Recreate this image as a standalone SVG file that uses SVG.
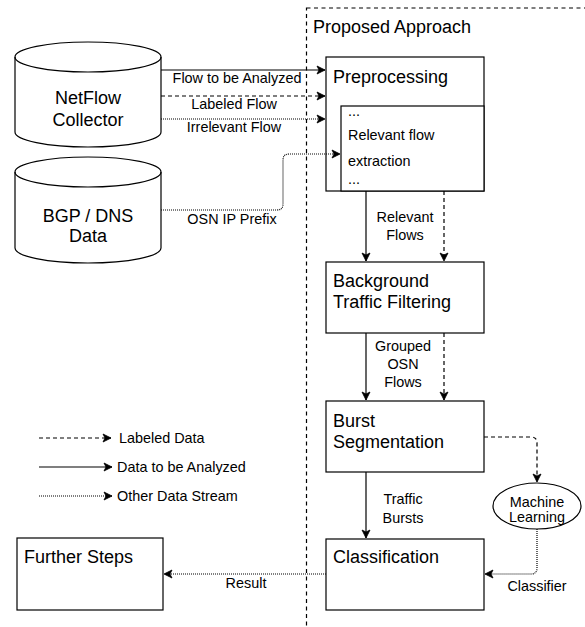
<svg xmlns="http://www.w3.org/2000/svg" width="585" height="627" viewBox="0 0 585 627">
<defs>
<marker id="ah" markerUnits="userSpaceOnUse" markerWidth="10" markerHeight="10" viewBox="0 0 10 10" refX="8" refY="4.5" orient="auto" overflow="visible">
<path d="M8,4.5 L0,0.5 L2,4.5 L0,8.5 Z" fill="#000" stroke="#000" stroke-width="0.8"/>
</marker>
<style>
text{font-family:"Liberation Sans",Arial,Helvetica,sans-serif;fill:#000}
.big{font-size:18px}
.sm{font-size:14.4px}
.mid{text-anchor:middle}
.box{fill:#fff;stroke:#000;stroke-width:1.2}
.e{fill:none;stroke:#000;stroke-width:1.2}
.solid{}
.dash{stroke-dasharray:4 3}
.dot{stroke-dasharray:1 1}
.arr{marker-end:url(#ah)}
.cont{fill:none;stroke:#000;stroke-width:1.2;stroke-dasharray:4 3.5}
</style>
</defs>
<rect width="585" height="627" fill="#fff"/>

<g id="container">
<rect class="cont" x="306.5" y="8" width="300" height="650"/>
<text class="big" x="313" y="33">Proposed Approach</text>
</g>

<g id="netflow">
<path class="box" d="M15,57 A73,15 0 0 1 161,57 L161,132 A73,15 0 0 1 15,132 Z"/>
<path class="e" d="M15,57 A73,15 0 0 0 161,57"/>
<text class="big mid" x="88" y="104">NetFlow</text>
<text class="big mid" x="88" y="126">Collector</text>
</g>

<g id="bgp">
<path class="box" d="M15,172 A73,15 0 0 1 161,172 L161,248 A73,15 0 0 1 15,248 Z"/>
<path class="e" d="M15,172 A73,15 0 0 0 161,172"/>
<text class="big mid" x="88" y="222">BGP / DNS</text>
<text class="big mid" x="88" y="242">Data</text>
</g>

<g id="preprocessing">
<rect class="box" x="326" y="57" width="158" height="134"/>
<text class="big" x="333" y="83">Preprocessing</text>
<rect class="box" x="341" y="106" width="143" height="85"/>
<text class="sm" x="348" y="116">...</text>
<text class="sm" x="348" y="140">Relevant flow</text>
<text class="sm" x="348" y="166">extraction</text>
<text class="sm" x="348" y="184">...</text>
</g>

<g id="background">
<rect class="box" x="326" y="262" width="158" height="71"/>
<text class="big" x="333" y="287">Background</text>
<text class="big" x="333" y="308">Traffic Filtering</text>
</g>

<g id="burst">
<rect class="box" x="326" y="401" width="158" height="71"/>
<text class="big" x="333" y="427">Burst</text>
<text class="big" x="333" y="448">Segmentation</text>
</g>

<g id="classification">
<rect class="box" x="326" y="539" width="158" height="71"/>
<text class="big" x="333" y="563">Classification</text>
</g>

<g id="ml">
<ellipse class="box" cx="537" cy="506" rx="44" ry="23"/>
<text class="sm mid" x="537" y="507">Machine</text>
<text class="sm mid" x="537" y="522">Learning</text>
</g>

<g id="further">
<rect class="box" x="17" y="538" width="146" height="72"/>
<text class="big" x="24" y="563">Further Steps</text>
</g>

<g id="legend">
<path class="e dash arr" d="M39,438 H111"/>
<text class="sm" x="119" y="443">Labeled Data</text>
<path class="e arr" d="M39,467 H112"/>
<text class="sm" x="117" y="472">Data to be Analyzed</text>
<path class="e dot arr" d="M39,496 H112"/>
<text class="sm" x="117" y="501">Other Data Stream</text>
</g>

<g id="connectors">
<path class="e arr" d="M161,70 H325"/>
<text class="sm mid" x="237" y="83">Flow to be Analyzed</text>
<path class="e dash arr" d="M161,96 H325"/>
<text class="sm mid" x="234" y="109">Labeled Flow</text>
<path class="e dot arr" d="M161,119 H325"/>
<text class="sm mid" x="234" y="132">Irrelevant Flow</text>
<path class="e dot arr" d="M161,210 H277 Q283,210 283,204 V160 Q283,154 289,154 H340"/>
<text class="sm mid" x="232" y="224">OSN IP Prefix</text>

<path class="e arr" d="M366,191 V261"/>
<path class="e dash arr" d="M444,191 V261"/>
<text class="sm mid" x="405" y="222">Relevant</text>
<text class="sm mid" x="405" y="240">Flows</text>

<path class="e arr" d="M366,333 V400"/>
<path class="e dash arr" d="M444,333 V400"/>
<text class="sm mid" x="403" y="351">Grouped</text>
<text class="sm mid" x="403" y="369">OSN</text>
<text class="sm mid" x="403" y="387">Flows</text>

<path class="e arr" d="M366,472 V538"/>
<text class="sm mid" x="403" y="504">Traffic</text>
<text class="sm mid" x="403" y="523">Bursts</text>

<path class="e dash arr" d="M484,437 H531 Q537,437 537,443 V482"/>
<path class="e dot arr" d="M537,529 V568 Q537,574 531,574 H485"/>
<text class="sm mid" x="537" y="591">Classifier</text>

<path class="e dot arr" d="M326,574 H164"/>
<text class="sm mid" x="246" y="588">Result</text>
</g>
</svg>
